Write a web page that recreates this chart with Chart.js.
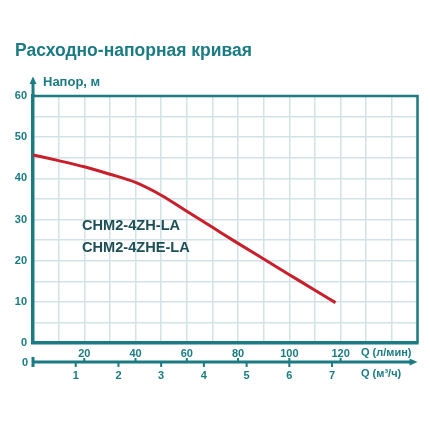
<!DOCTYPE html>
<html lang="ru">
<head>
<meta charset="utf-8">
<title>Расходно-напорная кривая</title>
<script src="https://cdn.jsdelivr.net/npm/chart.js@4/dist/chart.umd.min.js"></script>
<style>
  html, body { margin: 0; padding: 0; background: #fff; }
  #wrap { width: 430px; height: 430px; position: relative; }
</style>
</head>
<body>
<div id="wrap"><canvas id="myChart" width="430" height="430"></canvas></div>
<script>
'use strict';

// chart data
let flowLmin = [0, 10, 20, 30, 40, 50, 60, 70, 80, 90, 100, 110, 118]; // Q, l/min
let headM = [45.7, 44.3, 42.8, 41.0, 39.0, 35.9, 32.0, 28.1, 24.2, 20.4, 16.6, 12.8, 9.8]; // H, m

// tick labels
let headTicks = [0, 10, 20, 30, 40, 50, 60];
let flowTicks = [20, 40, 60, 80, 100, 120];       // l/min
let flowM3Ticks = [1, 2, 3, 4, 5, 6, 7];          // m3/h

let titleText = 'Расходно-напорная кривая';
let yTitle = 'Напор, м';
let xTitleLmin = 'Q (л/мин)';
let xTitleM3 = 'Q (м³/ч)';
let modelNames = ['CHM2-4ZH-LA', 'CHM2-4ZHE-LA'];

// look
let teal = '#1b7b83';
let darkTeal = '#1d4f56';
let gridColor = '#d2e2e6';
let curveColor = '#c81f2a';
let fontFamily = '"Liberation Sans", Arial, sans-serif';

let points = [];
for (let i = 0; i < flowLmin.length; i++) {
  points.push({ x: flowLmin[i], y: headM[i] });
}

// draws frame, arrows, second axis and the texts
let decorPlugin = {
  id: 'decor',
  beforeDatasetsDraw(chart) {
    let c = chart.ctx;
    let a = chart.chartArea;
    c.save();
    c.strokeStyle = teal;
    c.lineWidth = 2.5;
    c.beginPath();
    c.moveTo(a.left, a.top);
    c.lineTo(a.right, a.top);
    c.lineTo(a.right, a.bottom);
    c.stroke();
    c.restore();
  },
  afterDraw(chart) {
    let c = chart.ctx;
    let a = chart.chartArea;
    let xs = chart.scales.x;
    let qs = chart.scales.q;
    c.save();

    // title
    c.fillStyle = teal;
    c.textBaseline = 'middle';
    c.textAlign = 'left';
    c.font = 'bold 17.5px ' + fontFamily;
    c.fillText(titleText, 15, 51);

    // y arrow
    c.strokeStyle = teal;
    c.lineWidth = 3;
    c.beginPath();
    c.moveTo(a.left, a.top);
    c.lineTo(a.left, 82);
    c.stroke();
    c.beginPath();
    c.moveTo(a.left, 76.5);
    c.lineTo(a.left - 3.5, 84);
    c.lineTo(a.left + 3.5, 84);
    c.closePath();
    c.fill();
    c.font = 'bold 13px ' + fontFamily;
    c.fillText(yTitle, 43, 82);

    // second flow axis
    let ay = 362;
    c.lineWidth = 3;
    c.beginPath();
    c.moveTo(a.left, ay);
    c.lineTo(a.right - 6, ay);
    c.stroke();
    c.beginPath();
    c.moveTo(a.right, ay);
    c.lineTo(a.right - 8, ay - 3.5);
    c.lineTo(a.right - 8, ay + 3.5);
    c.closePath();
    c.fill();
    c.beginPath();
    c.moveTo(a.left, ay - 5);
    c.lineTo(a.left, ay + 5);
    c.stroke();

    c.lineWidth = 2;
    flowTicks.forEach(v => {
      let px = xs.getPixelForValue(v);
      c.beginPath();
      c.moveTo(px, ay - 4);
      c.lineTo(px, ay);
      c.stroke();
    });
    flowM3Ticks.forEach(v => {
      let px = qs.getPixelForValue(v);
      c.beginPath();
      c.moveTo(px, ay);
      c.lineTo(px, ay + 5);
      c.stroke();
    });

    c.font = 'bold 11px ' + fontFamily;
    c.textAlign = 'right';
    c.fillText('0', 28, ay + 1);
    c.textAlign = 'left';
    c.fillText(xTitleLmin, 361, 353);
    c.fillText(xTitleM3, 361, 374);

    // model names
    c.fillStyle = darkTeal;
    c.font = 'bold 14.6px ' + fontFamily;
    c.fillText(modelNames[0], 82, 226);
    c.fillText(modelNames[1], 82, 248);

    c.restore();
  }
};

let ctx = document.getElementById('myChart').getContext('2d');

let chartObject = {
  type: 'line',
  data: {
    datasets: [{
      label: 'H',
      data: points,
      borderColor: curveColor,
      borderWidth: 3,
      pointRadius: 0,
      fill: false,
      cubicInterpolationMode: 'monotone'
    }]
  },
  options: {
    responsive: false,
    animation: false,
    devicePixelRatio: 1,
    layout: { padding: { left: 0, right: 12.5, top: 96, bottom: 0 } },
    plugins: {
      legend: { display: false },
      tooltip: { enabled: false }
    },
    scales: {
      x: {
        type: 'linear',
        position: 'bottom',
        weight: 0,
        min: 0,
        max: 150,
        grid: { color: gridColor, lineWidth: 1.5, drawTicks: false },
        border: { color: teal, width: 3.5 },
        ticks: {
          stepSize: 10,
          autoSkip: false,
          maxRotation: 0,
          padding: 4,
          color: teal,
          font: { family: fontFamily, size: 11, weight: 'bold' },
          callback: v => (flowTicks.includes(v) ? v : '')
        },
        afterFit: s => { s.height = 19; }
      },
      q: {
        type: 'linear',
        position: 'bottom',
        weight: 1,
        min: 0,
        max: 9, // 150 l/min
        grid: { display: false, drawTicks: false },
        border: { display: false },
        ticks: {
          stepSize: 1,
          autoSkip: false,
          maxRotation: 0,
          padding: 7,
          color: teal,
          font: { family: fontFamily, size: 11, weight: 'bold' },
          callback: v => (flowM3Ticks.includes(v) ? v : '')
        },
        afterFit: s => { s.height = 68; }
      },
      y: {
        type: 'linear',
        min: 0,
        max: 60,
        grid: { color: gridColor, lineWidth: 1.5, drawTicks: false },
        border: { color: teal, width: 3.5 },
        ticks: {
          stepSize: 5,
          autoSkip: false,
          padding: 6,
          color: teal,
          font: { family: fontFamily, size: 11, weight: 'bold' },
          callback: v => (headTicks.includes(v) ? v : '')
        },
        afterFit: s => { s.width = 33; }
      }
    }
  },
  plugins: [decorPlugin]
};

new Chart(ctx, chartObject); //eslint-disable-line
</script>
</body>
</html>
